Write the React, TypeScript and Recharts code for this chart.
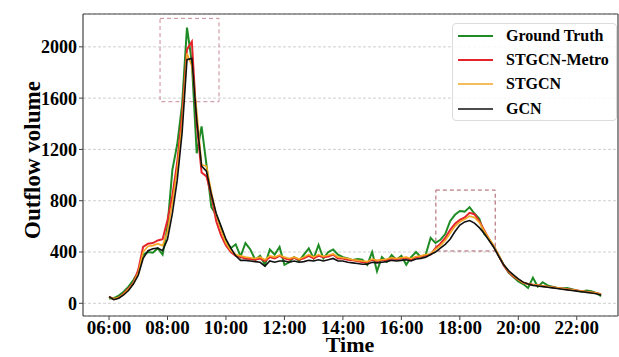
import React from 'react';
import {
  LineChart,
  Line,
  XAxis,
  YAxis,
  CartesianGrid,
  ReferenceArea,
  ReferenceLine,
  Legend,
  Label,
} from 'recharts';

// ---- data (10-minute samples from 06:00 to 22:50) ----
const groundTruth = [
  38, 40, 60, 90, 130, 182,
  245, 380, 400, 395, 430, 380,
  600, 1040, 1240, 1550, 2150, 1880,
  1170, 1380, 1080, 750, 690, 590,
  480, 430, 460, 365, 470, 420,
  340, 370, 300, 420, 380, 440,
  300, 320, 360, 330, 380, 428,
  350, 455, 350, 400, 420, 380,
  360, 350, 337, 345, 340, 300,
  400, 250, 360, 324, 376, 340,
  370, 300, 360, 400, 360, 380,
  510, 470, 495, 540, 640, 690,
  720, 715, 750, 700, 660, 540,
  500, 440, 370, 300, 240, 205,
  170, 150, 120, 200, 130, 165,
  140, 130, 120, 115, 120, 110,
  100, 90, 100, 95, 80, 55,
];

const stgcnMetro = [
  52, 32, 45, 75, 115, 160,
  260, 440, 465, 470, 490, 500,
  650, 840, 1100, 1470, 1980, 2040,
  1400, 1020, 990, 840, 640, 530,
  450, 400, 370, 360, 350, 345,
  340, 350, 330, 360, 350, 370,
  350, 340, 355, 340, 350, 370,
  350, 370, 360, 365, 380, 350,
  350, 340, 335, 330, 320, 320,
  340, 330, 335, 340, 350, 345,
  350, 355, 340, 360, 365, 375,
  380, 430, 465, 510, 572, 620,
  650, 670, 706, 695, 640, 570,
  500, 440, 370, 295, 245, 210,
  185, 160, 150, 145, 140, 135,
  130, 125, 120, 115, 110, 105,
  100, 95, 90, 85, 80, 70,
];

const stgcn = [
  48, 35, 45, 70, 110, 155,
  240, 400, 445, 450, 465, 450,
  560, 780, 1050, 1400, 1950, 1850,
  1500, 1080, 1070, 870, 690, 570,
  470, 410, 380, 370, 360, 355,
  350, 360, 340, 370, 360, 375,
  360, 350, 360, 345, 360, 380,
  360, 380, 365, 375, 385, 360,
  355, 350, 340, 335, 330, 325,
  345, 335, 340, 345, 355, 350,
  355, 360, 350, 365, 370, 380,
  385, 420, 450, 490, 545, 600,
  635, 655, 680, 670, 630, 565,
  505, 445, 375, 300, 250, 215,
  185, 160, 150, 145, 140, 135,
  130, 125, 120, 115, 110, 105,
  100, 95, 90, 85, 80, 70,
];

const gcn = [
  52, 28, 40, 65, 100, 150,
  220, 350, 410, 425, 430, 410,
  500, 700, 960, 1330, 1900, 1910,
  1430, 1070, 1030, 850, 700, 600,
  500, 430, 370, 335, 335, 330,
  325, 320, 290, 330, 320, 330,
  330, 320, 330, 320, 325, 335,
  330, 340, 330, 340, 350, 330,
  330, 320, 315, 310, 305, 305,
  320, 315, 320, 325, 335, 330,
  335, 340, 330, 345, 350, 360,
  380, 400, 430, 460, 500, 560,
  610, 635, 645, 625, 590, 545,
  490, 435, 365, 300, 255, 221,
  190, 165, 150, 140, 135, 130,
  125, 120, 115, 110, 105, 100,
  95, 90, 85, 80, 75, 65,
];

const startHour = 6;
const stepMinutes = 10;

const xTicks = [6, 8, 10, 12, 14, 16, 18, 20, 22];
const xTickLabels = ['06:00', '08:00', '10:00', '12:00', '14:00', '16:00', '18:00', '20:00', '22:00'];
const yTicks = [0, 400, 800, 1200, 1600, 2000];

const seriesNames = ['Ground Truth', 'STGCN-Metro', 'STGCN', 'GCN'];

// highlighted windows [x1, x2, y1, y2] in hours / volume
const morningBox = [7.745, 9.763, 1572, 2222];
const eveningBox = [17.18, 19.21, 408, 883];

const data = groundTruth.map((g, i) => ({
  t: startHour + (i * stepMinutes) / 60,
  gt: g,
  metro: stgcnMetro[i],
  stgcn: stgcn[i],
  gcn: gcn[i],
}));

const FONT = '"Liberation Serif", "Times New Roman", Times, serif';
const X_DOMAIN: [number, number] = [5.11, 23.41];
const Y_DOMAIN: [number, number] = [-99, 2256];

const colors = ['#1f8b24', '#e3242b', '#f5a623', '#111111'];
const widths = [2, 2, 1.6, 1.6];

const fmtTick = (v: number) => {
  const idx = xTicks.indexOf(v);
  return idx >= 0 ? xTickLabels[idx] : '';
};

const LegendBox = () => (
  <div
    style={{
      width: 165,
      height: 98,
      boxSizing: 'border-box',
      border: '1px solid #dcdcdc',
      borderRadius: 4,
      background: 'rgba(255,255,255,0.85)',
      fontFamily: FONT,
      fontWeight: 'bold',
      fontSize: 16,
      color: '#000',
      paddingTop: 0,
    }}
  >
    {seriesNames.map((name, i) => (
      <div key={name} style={{ display: 'flex', alignItems: 'center', height: 24.2 }}>
        <svg width={53} height={10} style={{ flex: 'none' }}>
          <line x1={5} x2={40} y1={5} y2={5} stroke={colors[i]} strokeWidth={widths[i]} />
        </svg>
        <span style={{ whiteSpace: 'nowrap', lineHeight: '16px' }}>{name}</span>
      </div>
    ))}
  </div>
);

export default function App() {
  return (
    <div style={{ position: 'absolute', left: 0, top: 0, width: 619, height: 357, background: '#fff' }}>
      <LineChart width={619} height={357} data={data} margin={{ top: 14, right: 1, bottom: 0, left: 0 }}>
        <CartesianGrid
          horizontal
          vertical={false}
          stroke="#c4c4c4"
          strokeDasharray="3 2"
          strokeWidth={0.8}
        />
        <XAxis
          dataKey="t"
          type="number"
          domain={X_DOMAIN}
          ticks={xTicks}
          tickFormatter={fmtTick}
          allowDataOverflow
          height={41}
          tickSize={4}
          tickMargin={1}
          stroke="#444"
          axisLine={{ stroke: '#444', strokeWidth: 1.2 }}
          tickLine={{ stroke: '#444' }}
          tick={{ fontFamily: FONT, fontWeight: 'bold', fontSize: 19, fill: '#000' }}
          interval={0}
        >
          <Label
            content={() => (
              <text
                x={350}
                y={352}
                textAnchor="middle"
                fontFamily={FONT}
                fontWeight="bold"
                fontSize={22}
                fill="#000"
              >
                Time
              </text>
            )}
          />
        </XAxis>
        <YAxis
          type="number"
          domain={Y_DOMAIN}
          ticks={yTicks}
          allowDataOverflow
          width={83}
          tickSize={4}
          tickMargin={2}
          axisLine={{ stroke: '#444', strokeWidth: 1.2 }}
          tickLine={{ stroke: '#444' }}
          tick={{ fontFamily: FONT, fontWeight: 'bold', fontSize: 18, fill: '#000' }}
          interval={0}
        >
          <Label
            content={() => (
              <text
                x={40}
                y={160}
                transform="rotate(-90 40 160)"
                textAnchor="middle"
                fontFamily={FONT}
                fontWeight="bold"
                fontSize={23}
                fill="#000"
              >
                Outflow volume
              </text>
            )}
          />
        </YAxis>
        <ReferenceLine y={Y_DOMAIN[1]} stroke="#444" strokeWidth={1.2} ifOverflow="extendDomain" />
        <ReferenceLine x={X_DOMAIN[1]} stroke="#444" strokeWidth={1.2} ifOverflow="extendDomain" />
        <Line
          type="linear"
          dataKey="gt"
          name={seriesNames[0]}
          stroke={colors[0]}
          strokeWidth={widths[0]}
          dot={false}
          isAnimationActive={false}
        />
        <Line
          type="linear"
          dataKey="metro"
          name={seriesNames[1]}
          stroke={colors[1]}
          strokeWidth={widths[1]}
          dot={false}
          isAnimationActive={false}
        />
        <Line
          type="linear"
          dataKey="stgcn"
          name={seriesNames[2]}
          stroke={colors[2]}
          strokeWidth={widths[2]}
          dot={false}
          isAnimationActive={false}
        />
        <Line
          type="linear"
          dataKey="gcn"
          name={seriesNames[3]}
          stroke={colors[3]}
          strokeWidth={widths[3]}
          dot={false}
          isAnimationActive={false}
        />
        <ReferenceArea
          x1={morningBox[0]}
          x2={morningBox[1]}
          y1={morningBox[2]}
          y2={morningBox[3]}
          fill="none"
          stroke="#c98a95"
          strokeDasharray="4 3"
          strokeWidth={1}
        />
        <ReferenceArea
          x1={eveningBox[0]}
          x2={eveningBox[1]}
          y1={eveningBox[2]}
          y2={eveningBox[3]}
          fill="none"
          stroke="#a85a66"
          strokeDasharray="4 3"
          strokeWidth={1}
        />
        <Legend
          layout="horizontal"
          verticalAlign="middle"
          align="center"
          content={() => <LegendBox />}
          wrapperStyle={{ position: 'absolute', left: 452, top: 23, width: 165, height: 98 }}
        />
      </LineChart>
    </div>
  );
}
